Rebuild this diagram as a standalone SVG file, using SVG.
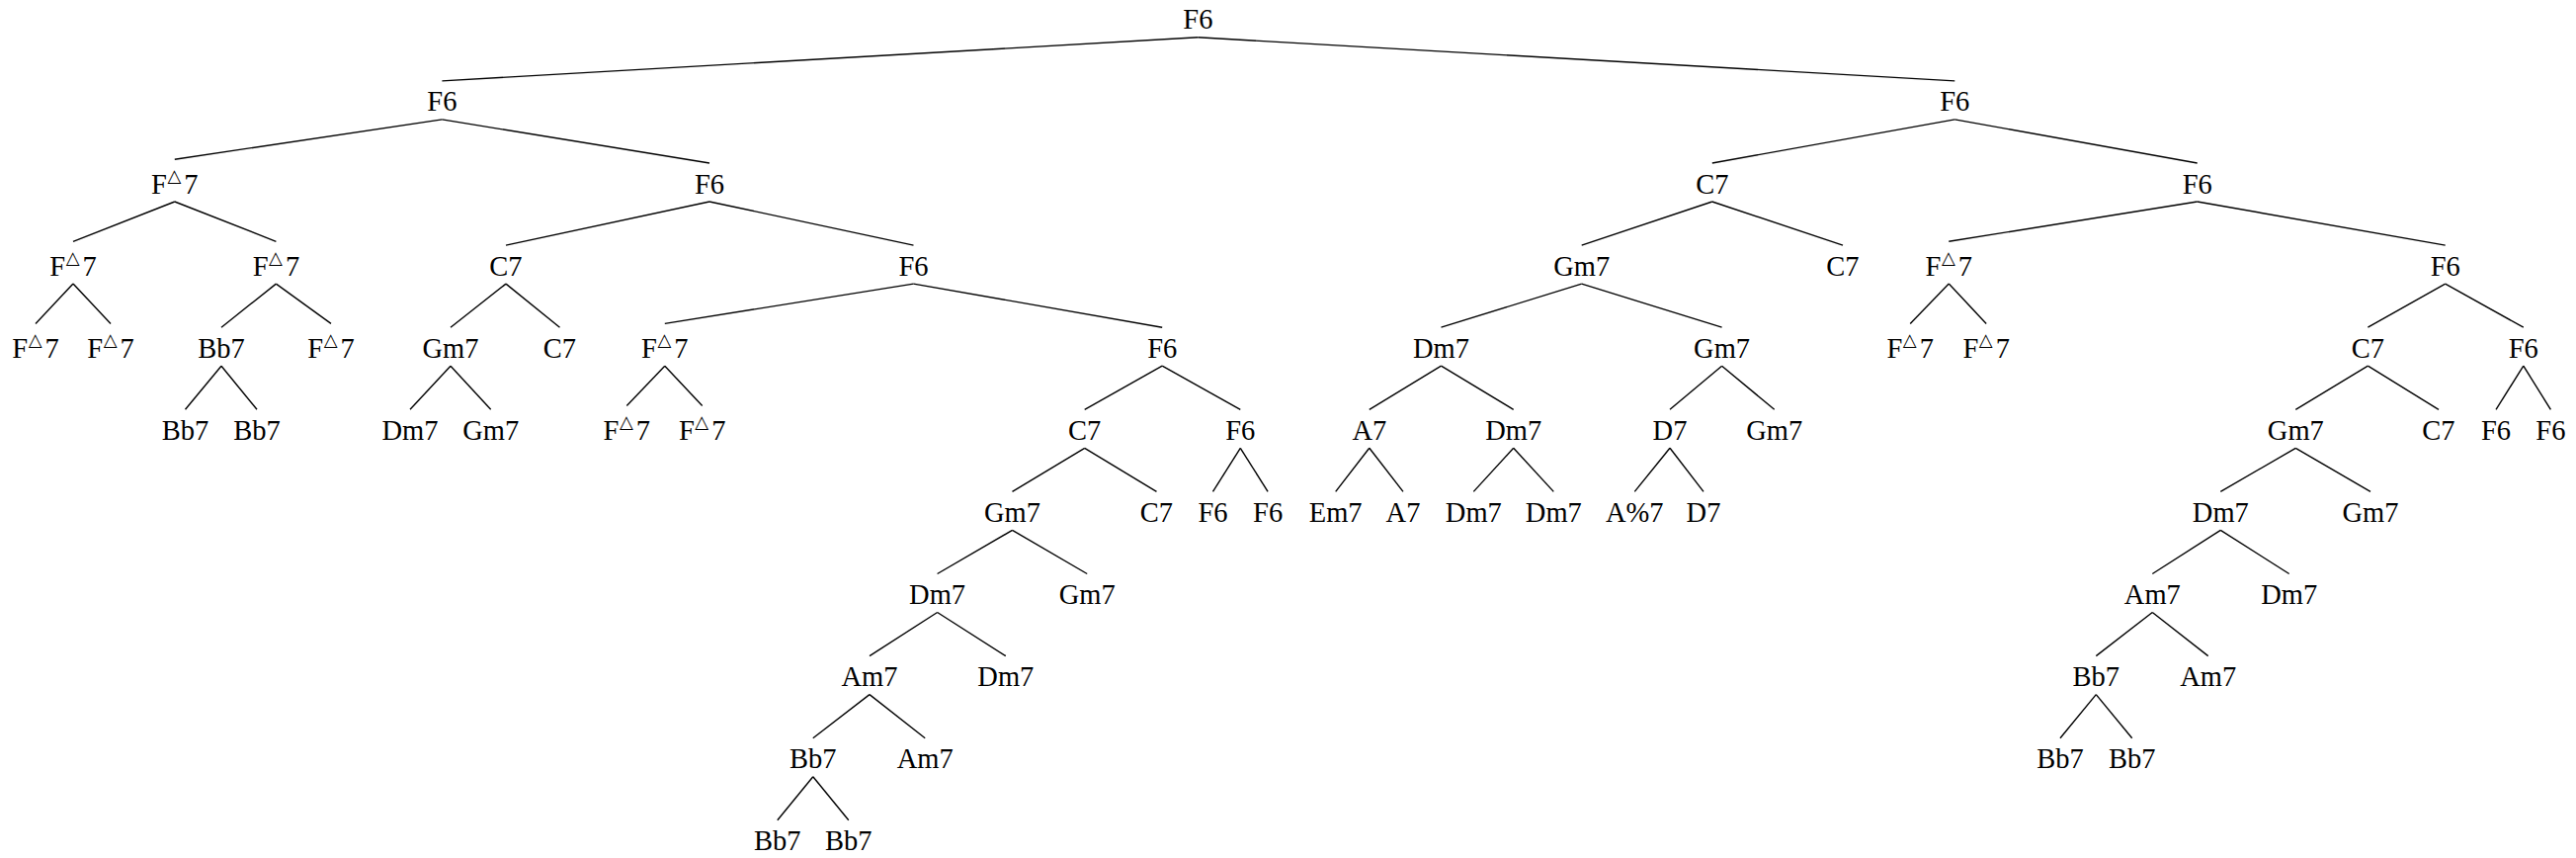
<svg xmlns="http://www.w3.org/2000/svg" width="2607" height="868" viewBox="0 0 2607 868">
<style>
.t{font-family:"Liberation Serif","Times New Roman",serif;font-size:28.5px;text-anchor:middle;fill:#000}
.tri{font-family:"DejaVu Sans",sans-serif;font-size:18px}
.e line{stroke:#000;stroke-width:1.4;stroke-linecap:butt}
</style>
<rect width="2607" height="868" fill="#fff"/>
<g id="connectors" class="e">
<line x1="1212.4" y1="37.8" x2="447.4" y2="81.9"/>
<line x1="1212.4" y1="37.8" x2="1978.3" y2="81.9"/>
<line x1="447.4" y1="120.9" x2="176.8" y2="161.2"/>
<line x1="447.4" y1="120.9" x2="718" y2="165"/>
<line x1="176.8" y1="204" x2="74" y2="244.3"/>
<line x1="176.8" y1="204" x2="279.4" y2="244.3"/>
<line x1="718" y1="204" x2="512" y2="248.1"/>
<line x1="718" y1="204" x2="924.5" y2="248.1"/>
<line x1="74" y1="287.1" x2="36" y2="327.4"/>
<line x1="74" y1="287.1" x2="112" y2="327.4"/>
<line x1="279.4" y1="287.1" x2="224" y2="331.2"/>
<line x1="279.4" y1="287.1" x2="335" y2="327.4"/>
<line x1="512" y1="287.1" x2="456" y2="331.2"/>
<line x1="512" y1="287.1" x2="566.5" y2="331.2"/>
<line x1="924.5" y1="287.1" x2="672.8" y2="327.4"/>
<line x1="924.5" y1="287.1" x2="1176.2" y2="331.2"/>
<line x1="224" y1="370.2" x2="187.5" y2="414.3"/>
<line x1="224" y1="370.2" x2="260" y2="414.3"/>
<line x1="456" y1="370.2" x2="415" y2="414.3"/>
<line x1="456" y1="370.2" x2="496.7" y2="414.3"/>
<line x1="672.8" y1="370.2" x2="634.3" y2="410.5"/>
<line x1="672.8" y1="370.2" x2="710.7" y2="410.5"/>
<line x1="1176.2" y1="370.2" x2="1097.7" y2="414.3"/>
<line x1="1176.2" y1="370.2" x2="1255.3" y2="414.3"/>
<line x1="1097.7" y1="453.3" x2="1024.5" y2="497.4"/>
<line x1="1097.7" y1="453.3" x2="1170.5" y2="497.4"/>
<line x1="1255.3" y1="453.3" x2="1227.5" y2="497.4"/>
<line x1="1255.3" y1="453.3" x2="1283.1" y2="497.4"/>
<line x1="1024.5" y1="536.4" x2="948.6" y2="580.5"/>
<line x1="1024.5" y1="536.4" x2="1100.2" y2="580.5"/>
<line x1="948.6" y1="619.5" x2="880" y2="663.6"/>
<line x1="948.6" y1="619.5" x2="1017.8" y2="663.6"/>
<line x1="880" y1="702.6" x2="822.8" y2="746.7"/>
<line x1="880" y1="702.6" x2="936.2" y2="746.7"/>
<line x1="822.8" y1="785.7" x2="786.8" y2="829.8"/>
<line x1="822.8" y1="785.7" x2="858.8" y2="829.8"/>
<line x1="1978.3" y1="120.9" x2="1732.8" y2="165"/>
<line x1="1978.3" y1="120.9" x2="2223.7" y2="165"/>
<line x1="1732.8" y1="204" x2="1600.7" y2="248.1"/>
<line x1="1732.8" y1="204" x2="1865" y2="248.1"/>
<line x1="2223.7" y1="204" x2="1972.3" y2="244.3"/>
<line x1="2223.7" y1="204" x2="2474.7" y2="248.1"/>
<line x1="1600.7" y1="287.1" x2="1458.5" y2="331.2"/>
<line x1="1600.7" y1="287.1" x2="1742.6" y2="331.2"/>
<line x1="1972.3" y1="287.1" x2="1933.2" y2="327.4"/>
<line x1="1972.3" y1="287.1" x2="2010.2" y2="327.4"/>
<line x1="2474.7" y1="287.1" x2="2396.4" y2="331.2"/>
<line x1="2474.7" y1="287.1" x2="2553.8" y2="331.2"/>
<line x1="1458.5" y1="370.2" x2="1385.8" y2="414.3"/>
<line x1="1458.5" y1="370.2" x2="1531.7" y2="414.3"/>
<line x1="1742.6" y1="370.2" x2="1690" y2="414.3"/>
<line x1="1742.6" y1="370.2" x2="1795.7" y2="414.3"/>
<line x1="2396.4" y1="370.2" x2="2323.3" y2="414.3"/>
<line x1="2396.4" y1="370.2" x2="2468" y2="414.3"/>
<line x1="2553.8" y1="370.2" x2="2526" y2="414.3"/>
<line x1="2553.8" y1="370.2" x2="2581.4" y2="414.3"/>
<line x1="1385.8" y1="453.3" x2="1351.7" y2="497.4"/>
<line x1="1385.8" y1="453.3" x2="1420" y2="497.4"/>
<line x1="1531.7" y1="453.3" x2="1491.3" y2="497.4"/>
<line x1="1531.7" y1="453.3" x2="1572.3" y2="497.4"/>
<line x1="1690" y1="453.3" x2="1654.3" y2="497.4"/>
<line x1="1690" y1="453.3" x2="1724" y2="497.4"/>
<line x1="2323.3" y1="453.3" x2="2247.3" y2="497.4"/>
<line x1="2323.3" y1="453.3" x2="2399" y2="497.4"/>
<line x1="2247.3" y1="536.4" x2="2178.3" y2="580.5"/>
<line x1="2247.3" y1="536.4" x2="2316.7" y2="580.5"/>
<line x1="2178.3" y1="619.5" x2="2121.3" y2="663.6"/>
<line x1="2178.3" y1="619.5" x2="2234.7" y2="663.6"/>
<line x1="2121.3" y1="702.6" x2="2085" y2="746.7"/>
<line x1="2121.3" y1="702.6" x2="2157.7" y2="746.7"/>
</g>
<g id="n_root"><text class="t" x="1212.4" y="29.3">F6</text></g>
<g id="n_L"><text class="t" x="447.4" y="112.4">F6</text></g>
<g id="n_LL"><text class="t" x="176.8" y="195.5">F<tspan class="tri" dx="0.5" dy="-12">△</tspan><tspan dx="3" dy="12">7</tspan></text></g>
<g id="n_LR"><text class="t" x="718" y="195.5">F6</text></g>
<g id="n_LLL"><text class="t" x="74" y="278.6">F<tspan class="tri" dx="0.5" dy="-12">△</tspan><tspan dx="3" dy="12">7</tspan></text></g>
<g id="n_LLR"><text class="t" x="279.4" y="278.6">F<tspan class="tri" dx="0.5" dy="-12">△</tspan><tspan dx="3" dy="12">7</tspan></text></g>
<g id="n_LRL"><text class="t" x="512" y="278.6">C7</text></g>
<g id="n_LRR"><text class="t" x="924.5" y="278.6">F6</text></g>
<g id="n_LLLL"><text class="t" x="36" y="361.7">F<tspan class="tri" dx="0.5" dy="-12">△</tspan><tspan dx="3" dy="12">7</tspan></text></g>
<g id="n_LLLR"><text class="t" x="112" y="361.7">F<tspan class="tri" dx="0.5" dy="-12">△</tspan><tspan dx="3" dy="12">7</tspan></text></g>
<g id="n_LLRL"><text class="t" x="224" y="361.7">Bb7</text></g>
<g id="n_LLRR"><text class="t" x="335" y="361.7">F<tspan class="tri" dx="0.5" dy="-12">△</tspan><tspan dx="3" dy="12">7</tspan></text></g>
<g id="n_LRLL"><text class="t" x="456" y="361.7">Gm7</text></g>
<g id="n_LRLR"><text class="t" x="566.5" y="361.7">C7</text></g>
<g id="n_LRRL"><text class="t" x="672.8" y="361.7">F<tspan class="tri" dx="0.5" dy="-12">△</tspan><tspan dx="3" dy="12">7</tspan></text></g>
<g id="n_LRRR"><text class="t" x="1176.2" y="361.7">F6</text></g>
<g id="n_LLRLL"><text class="t" x="187.5" y="444.8">Bb7</text></g>
<g id="n_LLRLR"><text class="t" x="260" y="444.8">Bb7</text></g>
<g id="n_LRLLL"><text class="t" x="415" y="444.8">Dm7</text></g>
<g id="n_LRLLR"><text class="t" x="496.7" y="444.8">Gm7</text></g>
<g id="n_LRRLL"><text class="t" x="634.3" y="444.8">F<tspan class="tri" dx="0.5" dy="-12">△</tspan><tspan dx="3" dy="12">7</tspan></text></g>
<g id="n_LRRLR"><text class="t" x="710.7" y="444.8">F<tspan class="tri" dx="0.5" dy="-12">△</tspan><tspan dx="3" dy="12">7</tspan></text></g>
<g id="n_LRRRL"><text class="t" x="1097.7" y="444.8">C7</text></g>
<g id="n_LRRRR"><text class="t" x="1255.3" y="444.8">F6</text></g>
<g id="n_LRRRLL"><text class="t" x="1024.5" y="527.9">Gm7</text></g>
<g id="n_LRRRLR"><text class="t" x="1170.5" y="527.9">C7</text></g>
<g id="n_LRRRRL"><text class="t" x="1227.5" y="527.9">F6</text></g>
<g id="n_LRRRRR"><text class="t" x="1283.1" y="527.9">F6</text></g>
<g id="n_LRRRLLL"><text class="t" x="948.6" y="611">Dm7</text></g>
<g id="n_LRRRLLR"><text class="t" x="1100.2" y="611">Gm7</text></g>
<g id="n_LRRRLLLL"><text class="t" x="880" y="694.1">Am7</text></g>
<g id="n_LRRRLLLR"><text class="t" x="1017.8" y="694.1">Dm7</text></g>
<g id="n_LRRRLLLLL"><text class="t" x="822.8" y="777.2">Bb7</text></g>
<g id="n_LRRRLLLLR"><text class="t" x="936.2" y="777.2">Am7</text></g>
<g id="n_LRRRLLLLLL"><text class="t" x="786.8" y="860.3">Bb7</text></g>
<g id="n_LRRRLLLLLR"><text class="t" x="858.8" y="860.3">Bb7</text></g>
<g id="n_R"><text class="t" x="1978.3" y="112.4">F6</text></g>
<g id="n_RL"><text class="t" x="1732.8" y="195.5">C7</text></g>
<g id="n_RR"><text class="t" x="2223.7" y="195.5">F6</text></g>
<g id="n_RLL"><text class="t" x="1600.7" y="278.6">Gm7</text></g>
<g id="n_RLR"><text class="t" x="1865" y="278.6">C7</text></g>
<g id="n_RRL"><text class="t" x="1972.3" y="278.6">F<tspan class="tri" dx="0.5" dy="-12">△</tspan><tspan dx="3" dy="12">7</tspan></text></g>
<g id="n_RRR"><text class="t" x="2474.7" y="278.6">F6</text></g>
<g id="n_RLLL"><text class="t" x="1458.5" y="361.7">Dm7</text></g>
<g id="n_RLLR"><text class="t" x="1742.6" y="361.7">Gm7</text></g>
<g id="n_RRLL"><text class="t" x="1933.2" y="361.7">F<tspan class="tri" dx="0.5" dy="-12">△</tspan><tspan dx="3" dy="12">7</tspan></text></g>
<g id="n_RRLR"><text class="t" x="2010.2" y="361.7">F<tspan class="tri" dx="0.5" dy="-12">△</tspan><tspan dx="3" dy="12">7</tspan></text></g>
<g id="n_RRRL"><text class="t" x="2396.4" y="361.7">C7</text></g>
<g id="n_RRRR"><text class="t" x="2553.8" y="361.7">F6</text></g>
<g id="n_RLLLL"><text class="t" x="1385.8" y="444.8">A7</text></g>
<g id="n_RLLLR"><text class="t" x="1531.7" y="444.8">Dm7</text></g>
<g id="n_RLLRL"><text class="t" x="1690" y="444.8">D7</text></g>
<g id="n_RLLRR"><text class="t" x="1795.7" y="444.8">Gm7</text></g>
<g id="n_RRRLL"><text class="t" x="2323.3" y="444.8">Gm7</text></g>
<g id="n_RRRLR"><text class="t" x="2468" y="444.8">C7</text></g>
<g id="n_RRRRL"><text class="t" x="2526" y="444.8">F6</text></g>
<g id="n_RRRRR"><text class="t" x="2581.4" y="444.8">F6</text></g>
<g id="n_RLLLLL"><text class="t" x="1351.7" y="527.9">Em7</text></g>
<g id="n_RLLLLR"><text class="t" x="1420" y="527.9">A7</text></g>
<g id="n_RLLLRL"><text class="t" x="1491.3" y="527.9">Dm7</text></g>
<g id="n_RLLLRR"><text class="t" x="1572.3" y="527.9">Dm7</text></g>
<g id="n_RLLRLL"><text class="t" x="1654.3" y="527.9">A%7</text></g>
<g id="n_RLLRLR"><text class="t" x="1724" y="527.9">D7</text></g>
<g id="n_RRRLLL"><text class="t" x="2247.3" y="527.9">Dm7</text></g>
<g id="n_RRRLLR"><text class="t" x="2399" y="527.9">Gm7</text></g>
<g id="n_RRRLLLL"><text class="t" x="2178.3" y="611">Am7</text></g>
<g id="n_RRRLLLR"><text class="t" x="2316.7" y="611">Dm7</text></g>
<g id="n_RRRLLLLL"><text class="t" x="2121.3" y="694.1">Bb7</text></g>
<g id="n_RRRLLLLR"><text class="t" x="2234.7" y="694.1">Am7</text></g>
<g id="n_RRRLLLLLL"><text class="t" x="2085" y="777.2">Bb7</text></g>
<g id="n_RRRLLLLLR"><text class="t" x="2157.7" y="777.2">Bb7</text></g>
</svg>
